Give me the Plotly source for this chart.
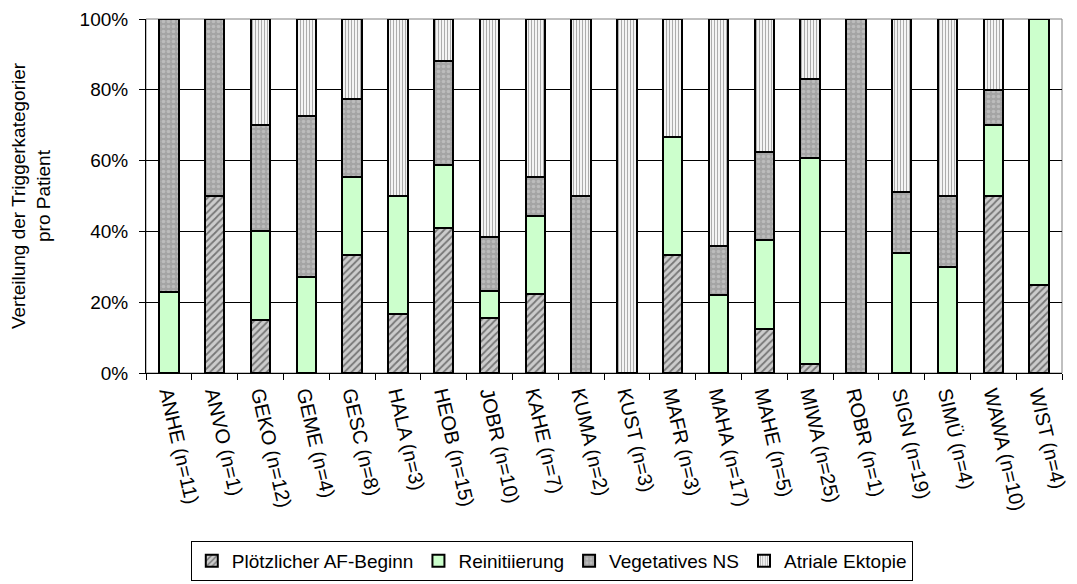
import plotly.graph_objects as go

categories = ["ANHE (n=11)", "ANVO (n=1)", "GEKO (n=12)", "GEME (n=4)", "GESC (n=8)",
              "HALA (n=3)", "HEOB (n=15)", "JOBR (n=10)", "KAHE (n=7)", "KUMA (n=2)",
              "KUST (n=3)", "MAFR (n=3)", "MAHA (n=17)", "MAHE (n=5)", "MIWA (n=25)",
              "ROBR (n=1)", "SIGN (n=19)", "SIMÜ (n=4)", "WAWA (n=10)", "WIST (n=4)"]

ploetzlich = [0, 50, 15, 0, 33.3, 16.7, 41, 15.4, 22.2, 0, 0, 33.3, 0, 12.5, 2.5, 0, 0, 0, 50, 25]
reinit = [23, 0, 25, 27, 22.1, 33.3, 17.7, 7.7, 22.2, 0, 0, 33.3, 22, 25, 58.3, 0, 34, 30, 20, 75]
vegetativ = [77, 50, 30, 45.5, 22.1, 0, 29.3, 15.4, 11.1, 50, 0, 0, 14, 25, 22.2, 100, 17, 20, 10, 0]
ektopie = [0, 0, 30, 27.5, 22.5, 50, 12, 61.5, 44.5, 50, 100, 33.4, 64, 37.5, 17, 0, 49, 50, 20, 0]

series_names = ["Plötzlicher AF-Beginn", "Reinitiierung", "Vegetatives NS", "Atriale Ektopie"]

font = "Liberation Sans, Arial, sans-serif"
line = dict(color="black", width=2)

fig = go.Figure()
fig.add_bar(x=categories, y=[v / 100 for v in ploetzlich], name=series_names[0],
            marker=dict(color="#cccccc", line=line,
                        pattern=dict(shape="/", fgcolor="#202020", fillmode="overlay",
                                     size=5, solidity=0.35)))
fig.add_bar(x=categories, y=[v / 100 for v in reinit], name=series_names[1],
            marker=dict(color="#ccffcc", line=line))
fig.add_bar(x=categories, y=[v / 100 for v in vegetativ], name=series_names[2],
            marker=dict(color="#a4a4a4", line=line,
                        pattern=dict(shape=".", fgcolor="#d4d4d4", fillmode="overlay",
                                     size=5, solidity=0.4)))
fig.add_bar(x=categories, y=[v / 100 for v in ektopie], name=series_names[3],
            marker=dict(color="#f4f4f4", line=line,
                        pattern=dict(shape="|", fgcolor="#555555", fillmode="overlay",
                                     size=3, solidity=0.3)))

FIG_W, FIG_H = 1069, 576  # page body has an 8px offset

fig.update_layout(
    barmode="stack",
    bargap=0.58,
    width=FIG_W, height=FIG_H,
    margin=dict(l=138, r=15, t=11, b=211),
    paper_bgcolor="white", plot_bgcolor="white",
    font=dict(family=font, size=19, color="black"),
    legend=dict(orientation="h", x=0.443, xanchor="center",
                yref="container", y=(FIG_H - 533) / FIG_H, yanchor="top",
                bordercolor="black", borderwidth=1, bgcolor="white",
                font=dict(size=19), itemwidth=30, traceorder="normal"),
    showlegend=True,
)
fig.update_xaxes(type="category", tickson="boundaries", ticks="outside", ticklen=6,
                 tickcolor="black", showline=True, linecolor="black", linewidth=1,
                 tickangle=77, showgrid=False, mirror=False, automargin=False,
                 tickfont=dict(size=20))
fig.update_yaxes(range=[0, 1], tickformat=".0%", dtick=0.2, ticks="outside", ticklen=6,
                 tickcolor="black", showline=True, linecolor="black", linewidth=1,
                 showgrid=True, gridcolor="black", gridwidth=1, zeroline=False,
                 automargin=False, tickfont=dict(size=19), ticklabelstandoff=7,
                 title=dict(text="Verteilung der Triggerkategorier<br>pro Patient",
                            font=dict(size=19), standoff=32))
fig.add_shape(type="rect", xref="paper", yref="paper", x0=0, y0=0, x1=1, y1=1,
              line=dict(color="#808080", width=1), layer="below")

fig.write_html("out.html")
